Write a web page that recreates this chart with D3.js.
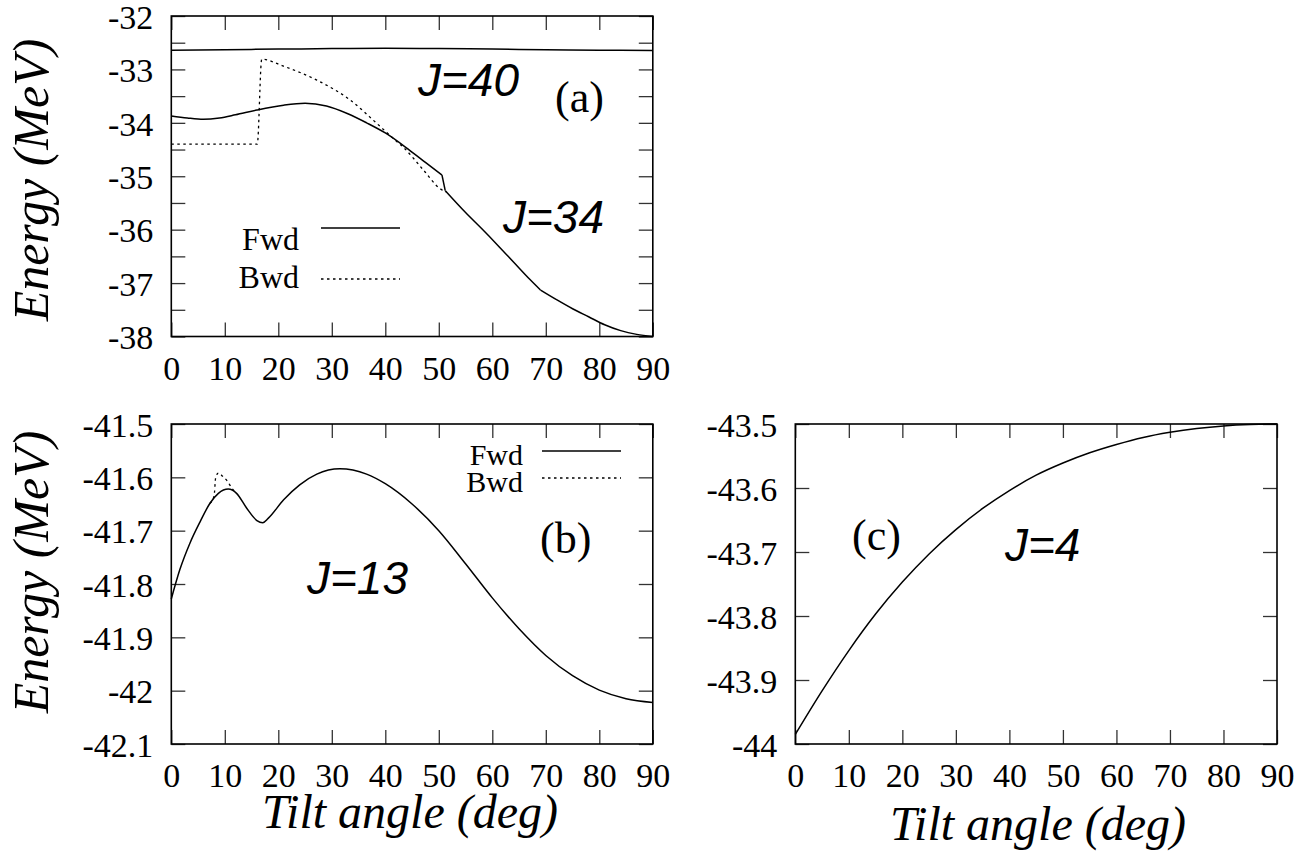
<!DOCTYPE html>
<html>
<head>
<meta charset="utf-8">
<script src="https://cdn.jsdelivr.net/npm/d3@7"></script>
<style>
  body { margin: 0; background: #fff; }
  svg { display: block; }
  .tick text { font-family: "Liberation Serif", "Times New Roman", serif; }
</style>
</head>
<body>
<script>
// page size
var W = 1305, H = 853;

// ---- data ----
// x axis (tilt angle, deg)
var xTicks = [0, 10, 20, 30, 40, 50, 60, 70, 80, 90];

// panel (a)
var yTicksA = [-38, -37, -36, -35, -34, -33, -32];
var yMinorA = [-37.5, -36.5, -35.5, -34.5, -33.5, -32.5];
var angleJ40 = [0, 10, 20, 30, 40, 50, 60, 70, 80, 90];
var energyJ40 = [-32.64, -32.63, -32.62, -32.61, -32.605, -32.61, -32.62, -32.63, -32.64, -32.645];
var angleFwdA = [0, 3, 6, 9, 12, 16, 21, 25, 29, 33, 36.5, 40, 44.5, 47.5, 50.6, 51.2, 55, 58, 61, 64, 67, 69, 72, 75, 78, 81, 84, 87, 90];
var energyFwdA = [-33.87, -33.91, -33.935, -33.91, -33.85, -33.76, -33.67, -33.635, -33.685, -33.83, -34.0, -34.19, -34.51, -34.74, -34.98, -35.27, -35.68, -35.98, -36.29, -36.61, -36.93, -37.13, -37.31, -37.48, -37.63, -37.78, -37.89, -37.96, -38.0];
var kinksFwdA = [50.6, 51.2, 69];
var angleBwdA = [0, 16.07, 16.9, 21, 27.2, 33.4, 38.4, 41.8, 43.4, 47.1, 50.2, 51.5];
var energyBwdA = [-34.40, -34.40, -32.81, -32.94, -33.20, -33.57, -34.01, -34.32, -34.46, -34.88, -35.23, -35.30];

// panel (b)
var yTicksB = [-42.1, -42.0, -41.9, -41.8, -41.7, -41.6, -41.5];
var angleFwdB = [0, 1.6, 3.5, 5.4, 7.2, 8.8, 10.65, 12.2, 14.1, 16, 17.1, 18.1, 21, 24, 27.2, 31.5, 36.5, 40, 45, 50, 55, 60, 65, 70, 75, 80, 85, 90];
var energyFwdB = [-41.828, -41.773, -41.723, -41.683, -41.649, -41.630, -41.622, -41.630, -41.658, -41.681, -41.685, -41.677, -41.642, -41.614, -41.594, -41.584, -41.594, -41.612, -41.650, -41.700, -41.762, -41.826, -41.884, -41.934, -41.972, -41.999, -42.015, -42.022];
var angleBwdB = [7.2, 8.0, 8.3, 8.8, 9.6, 10.4, 11.3, 12.2];
var energyBwdB = [-41.649, -41.635, -41.600, -41.592, -41.598, -41.606, -41.620, -41.630];

// panel (c)
var yTicksC = [-44.0, -43.9, -43.8, -43.7, -43.6, -43.5];
var angleC = [0, 5, 10, 15, 20, 25, 30, 35, 40, 45, 50, 55, 60, 65, 70, 75, 80, 85, 90];
var energyC = [-43.985, -43.917, -43.854, -43.797, -43.747, -43.703, -43.665, -43.632, -43.604, -43.580, -43.561, -43.545, -43.532, -43.521, -43.513, -43.507, -43.503, -43.5008, -43.500];

var serif = "Liberation Serif";
var sans = "Liberation Sans";
var tickLen = 14;

var svg = d3.select("body").append("svg")
    .attr("width", W)
    .attr("height", H);

function fmt(d) {
    return String(+d.toFixed(1));
}

// one framed panel with inward ticks on all four sides
function panel(box, yDomain, yTicks, yMinor) {
    var x = d3.scaleLinear().domain([0, 90]).range([box.left, box.right]);
    var y = d3.scaleLinear().domain(yDomain).range([box.bottom, box.top]);
    var g = svg.append("g");

    var axes = [
        d3.axisBottom(x).tickValues(xTicks).tickSize(-tickLen).tickPadding(19).tickFormat(fmt),
        d3.axisTop(x).tickValues(xTicks).tickSize(-tickLen).tickFormat(""),
        d3.axisLeft(y).tickValues(yTicks).tickSize(-tickLen).tickPadding(18).tickFormat(fmt),
        d3.axisRight(y).tickValues(yTicks).tickSize(-tickLen).tickFormat("")
    ];
    var shifts = [
        "translate(0," + box.bottom + ")",
        "translate(0," + box.top + ")",
        "translate(" + box.left + ",0)",
        "translate(" + box.right + ",0)"
    ];
    axes.forEach(function(ax, i) {
        var a = g.append("g").attr("transform", shifts[i]).call(ax)
            .attr("font-family", serif)
            .attr("font-size", 34);
        a.select(".domain").remove();
        a.selectAll("line").attr("stroke", "#333").attr("stroke-width", 1.3);
        a.selectAll("text")
            .style("font-family", serif)
            .style("font-size", "34px")
            .attr("fill", "#000");
        if (i === 0) a.selectAll("text").attr("dy", "0.72em");
        if (i === 2) a.selectAll("text").attr("dy", "0.36em");
    });

    if (yMinor) {
        [[d3.axisLeft(y), box.left], [d3.axisRight(y), box.right]].forEach(function(p) {
            var a = g.append("g").attr("transform", "translate(" + p[1] + ",0)")
                .call(p[0].tickValues(yMinor).tickSize(-tickLen).tickFormat(""));
            a.select(".domain").remove();
            a.selectAll("line").attr("stroke", "#333").attr("stroke-width", 1.3);
        });
    }

    g.append("rect")
        .attr("x", box.left)
        .attr("y", box.top)
        .attr("width", box.right - box.left)
        .attr("height", box.bottom - box.top)
        .attr("fill", "none")
        .attr("stroke", "#000")
        .attr("stroke-width", 1.6);

    return {x: x, y: y, g: g};
}

// smooth line through the points; split into pieces at the kinks so the
// monotone curve does not round them off
function curve(p, xs, ys, dashed, kinks) {
    var line = d3.line()
        .x(function(d) { return p.x(d[0]); })
        .y(function(d) { return p.y(d[1]); })
        .curve(d3.curveMonotoneX);
    var pts = d3.zip(xs, ys);
    var pieces = [[]];
    pts.forEach(function(d) {
        pieces[pieces.length - 1].push(d);
        if (kinks && kinks.indexOf(d[0]) >= 0) pieces.push([d]);
    });
    pieces.forEach(function(seg) {
        p.g.append("path")
            .datum(seg)
            .attr("d", line)
            .attr("fill", "none")
            .attr("stroke", "#000")
            .attr("stroke-width", dashed ? 1.3 : 1.5)
            .attr("stroke-linejoin", "round")
            .attr("stroke-dasharray", dashed ? "2.5,3.5" : null);
    });
}

function label(x, y, txt, font, size, italic, anchor) {
    svg.append("text")
        .attr("x", x)
        .attr("y", y)
        .style("font-family", font)
        .style("font-size", size + "px")
        .style("font-style", italic ? "italic" : "normal")
        .attr("text-anchor", anchor || "start")
        .text(txt);
}

function legend(xEnd, yText, yLine, x1, x2, txt, dashed, size) {
    label(xEnd, yText, txt, serif, size, false, "end");
    svg.append("line")
        .attr("x1", x1).attr("x2", x2)
        .attr("y1", yLine).attr("y2", yLine)
        .attr("stroke", "#000")
        .attr("stroke-width", 1.3)
        .attr("stroke-dasharray", dashed ? "2.5,3.5" : null);
}

function yTitle(x, y) {
    svg.append("text")
        .attr("transform", "translate(" + x + "," + y + ") rotate(-90)")
        .style("font-family", serif)
        .style("font-size", "50px")
        .style("font-style", "italic")
        .attr("text-anchor", "middle")
        .text("Energy (MeV)");
}

// (a)
var pa = panel({left: 171.3, right: 652.8, top: 16, bottom: 336.5}, [-38, -32], yTicksA, yMinorA);
curve(pa, angleJ40, energyJ40, false);
curve(pa, angleBwdA, energyBwdA, true);
curve(pa, angleFwdA, energyFwdA, false, kinksFwdA);
label(418, 96, "J=40", sans, 46, true);
label(555, 112, "(a)", serif, 44, false);
label(503, 233, "J=34", sans, 46, true);
legend(299, 250, 228, 321, 400, "Fwd", false, 32);
legend(299, 288, 279, 321, 400, "Bwd", true, 32);
yTitle(48, 180);

// (b)
var pb = panel({left: 171.3, right: 652.8, top: 424, bottom: 744}, [-42.1, -41.5], yTicksB);
curve(pb, angleBwdB, energyBwdB, true);
curve(pb, angleFwdB, energyFwdB, false);
label(307, 594, "J=13", sans, 46, true);
label(540, 553, "(b)", serif, 44, false);
legend(523, 465, 451, 542, 621, "Fwd", false, 30);
legend(523, 492, 478, 542, 621, "Bwd", true, 30);
yTitle(48, 572);
label(410, 828, "Tilt angle (deg)", serif, 48, true, "middle");

// (c)
var pc = panel({left: 795.3, right: 1277, top: 424, bottom: 744}, [-44, -43.5], yTicksC);
curve(pc, angleC, energyC, false);
label(852, 550, "(c)", serif, 44, false);
label(1005, 561, "J=4", sans, 46, true);
label(1038, 840, "Tilt angle (deg)", serif, 48, true, "middle");
</script>
</body>
</html>
